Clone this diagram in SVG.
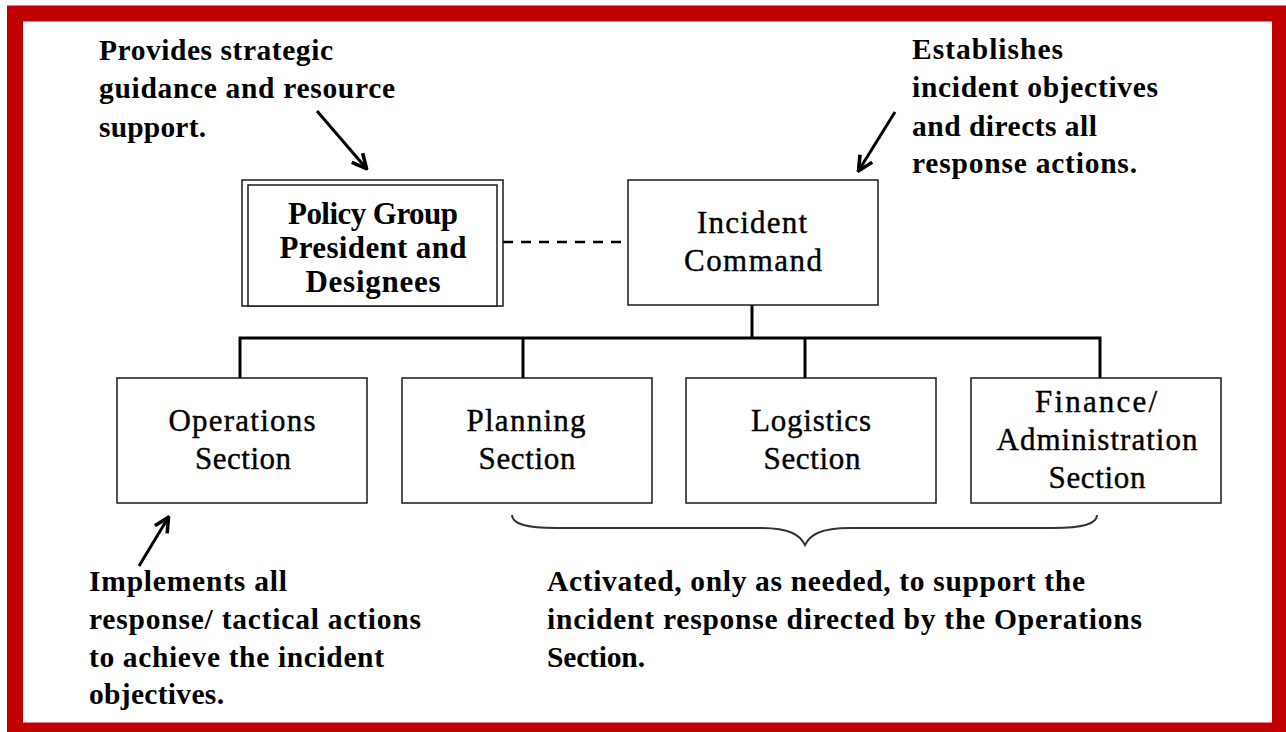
<svg xmlns="http://www.w3.org/2000/svg" width="1286" height="732" viewBox="0 0 1286 732">
<style>
.box{fill:#fff;stroke:#1a1a1a;stroke-width:1.5}
.node{font-family:"Liberation Serif",serif;font-size:31px;fill:#000;text-anchor:middle;stroke:#000;stroke-width:0.4}
.pg{font-family:"Liberation Serif",serif;font-size:31px;font-weight:bold;fill:#000;text-anchor:middle}
.note{font-family:"Liberation Serif",serif;font-size:29.5px;font-weight:bold;fill:#000}
.conn{fill:none;stroke:#000;stroke-width:3}
.arrow{fill:none;stroke:#000;stroke-width:3;marker-end:url(#ah)}
</style>
<defs>
<marker id="ah" viewBox="0 0 10 10" refX="8.5" refY="5" markerWidth="6" markerHeight="6" orient="auto" markerUnits="strokeWidth">
<path d="M1,1 L9,5 L1,9" fill="none" stroke="#000" stroke-width="2"/>
</marker>
</defs>
<rect x="0" y="0" width="1286" height="732" fill="#fff"/>
<rect x="15" y="13.5" width="1265" height="717" fill="none" stroke="#c00000" stroke-width="16"/>

<g id="connectors">
<line x1="503" y1="242" x2="626" y2="242" stroke="#000" stroke-width="2.5" stroke-dasharray="10,8"/>
<path class="conn" d="M752,305 V338 M240,378 V338 H1100 V378 M523,338 V378 M805,338 V378"/>
<path class="arrow" d="M317,111 L366,168"/>
<path class="arrow" d="M895,112 L859,170"/>
<path class="arrow" d="M139,566 L168,518"/>
<path d="M512,515 C512,524 526,528 556,528 L760,528 C790,528 800,535 805,545 C810,535 820,528 850,528 L1053,528 C1083,528 1097,524 1097,515" fill="none" stroke="#333" stroke-width="2"/>
</g>

<g id="policy-group">
<rect class="box" x="242" y="180" width="261" height="126"/>
<rect class="box" x="248" y="185" width="249" height="121"/>
<text class="pg" x="373" y="224" textLength="170">Policy Group</text>
<text class="pg" x="373" y="258" textLength="187">President and</text>
<text class="pg" x="373" y="292" textLength="135">Designees</text>
</g>

<g id="incident-command">
<rect class="box" x="628" y="180" width="250" height="125"/>
<text class="node" x="752" y="233" textLength="110">Incident</text>
<text class="node" x="753" y="271" textLength="138">Command</text>
</g>

<g id="operations">
<rect class="box" x="117" y="378" width="250" height="125"/>
<text class="node" x="242" y="431" textLength="147">Operations</text>
<text class="node" x="243" y="469" textLength="96">Section</text>
</g>

<g id="planning">
<rect class="box" x="402" y="378" width="250" height="125"/>
<text class="node" x="526" y="431" textLength="119">Planning</text>
<text class="node" x="527" y="469" textLength="97">Section</text>
</g>

<g id="logistics">
<rect class="box" x="686" y="378" width="250" height="125"/>
<text class="node" x="811" y="431" textLength="120">Logistics</text>
<text class="node" x="812" y="469" textLength="97">Section</text>
</g>

<g id="finance">
<rect class="box" x="971" y="378" width="250" height="125"/>
<text class="node" x="1096" y="412" textLength="122">Finance/</text>
<text class="node" x="1097" y="450" textLength="201">Administration</text>
<text class="node" x="1097" y="488" textLength="97">Section</text>
</g>

<g id="note-policy">
<text class="note" x="99" y="60" textLength="234">Provides strategic</text>
<text class="note" x="99" y="98" textLength="296">guidance and resource</text>
<text class="note" x="99" y="137" textLength="107">support.</text>
</g>

<g id="note-command">
<text class="note" x="912" y="59" textLength="151">Establishes</text>
<text class="note" x="912" y="97" textLength="246">incident objectives</text>
<text class="note" x="912" y="136" textLength="185">and directs all</text>
<text class="note" x="912" y="173" textLength="225">response actions.</text>
</g>

<g id="note-operations">
<text class="note" x="89" y="591" textLength="198">Implements all</text>
<text class="note" x="89" y="629" textLength="332">response/ tactical actions</text>
<text class="note" x="89" y="667" textLength="295">to achieve the incident</text>
<text class="note" x="89" y="704" textLength="135">objectives.</text>
</g>

<g id="note-sections">
<text class="note" x="547" y="591" textLength="538">Activated, only as needed,  to support the</text>
<text class="note" x="547" y="629" textLength="595">incident response directed by the Operations</text>
<text class="note" x="547" y="667" textLength="98">Section.</text>
</g>
</svg>
